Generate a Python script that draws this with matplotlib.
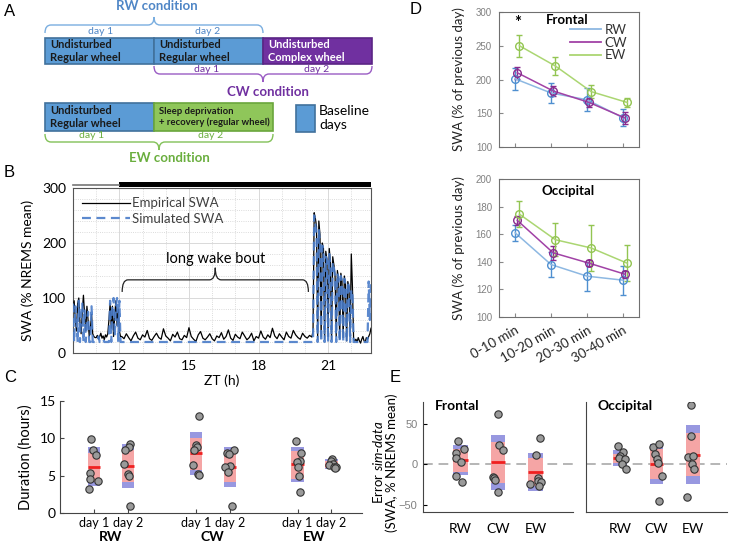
import numpy as np
import matplotlib
matplotlib.use('Agg')
import matplotlib.pyplot as plt
from matplotlib.patches import Rectangle, PathPatch
from matplotlib.path import Path
from matplotlib.lines import Line2D
import matplotlib.transforms as mtransforms

plt.rcParams['font.family'] = ['Lato', 'DejaVu Sans']
plt.rcParams['mathtext.fontset'] = 'custom'
plt.rcParams['mathtext.rm'] = 'Lato'
plt.rcParams['mathtext.it'] = 'Lato:italic'

############################################################
# Panel B : SWA traces (ZT hours)
zt_pre = np.linspace(10.0, 12.05, 42)
zt_wake = np.linspace(12.1, 20.3, 83)
zt_rec = np.linspace(20.35, 22.85, 51)

emp_pre = [80, 95, 60, 40, 90, 100, 55, 35, 75, 105, 70, 40, 85, 60, 30, 45, 70, 35, 30, 28,
           28, 32, 25, 30, 36, 27, 31, 24, 33, 29, 35,
           60, 90, 45, 85, 30, 70, 95, 50, 80, 40, 30]
emp_wake = [30, 26, 35, 28, 22, 31, 38, 27, 24, 33,
            29, 41, 26, 23, 30, 36, 28, 25, 44, 31,
            27, 22, 34, 29, 38, 26, 24, 32, 28, 46,
            30, 25, 21, 33, 39, 27, 24, 29, 35, 26,
            22, 31, 28, 37, 25, 30, 42, 27, 23, 34,
            29, 26, 38, 31, 24, 28, 36, 22, 30, 27,
            40, 29, 25, 33, 28, 45, 31, 26, 35, 29,
            24, 38, 30, 27, 41, 33, 28, 25, 36, 30,
            27, 32, 29]
emp_rec = [40, 255, 245, 230, 25, 240, 215, 30, 200, 190, 25, 185, 170, 30, 190, 165, 25, 175,
           160, 140, 30, 150, 135, 25, 145, 130, 28, 140, 125, 22, 130, 120, 30, 180, 120, 25,
           22, 25, 20, 28, 22, 18, 25, 30, 22, 20, 28, 25, 30, 35, 45]

sim_pre = [90, 20, 85, 60, 20, 95, 20, 70, 90, 20, 80, 20, 60, 75, 20, 20, 85, 20, 20, 20,
           20, 20, 30, 20, 20, 20, 25, 20, 20, 20, 20,
           20, 95, 20, 90, 100, 30, 85, 100, 20, 95, 20]
zt_sim_wake = [12.1, 20.3]
sim_wake = [20, 20]
sim_rec = [20, 250, 235, 215, 20, 225, 200, 20, 195, 185, 20, 175, 170, 20, 180, 160, 20, 165,
           155, 140, 20, 145, 135, 20, 140, 130, 20, 135, 125, 20, 130, 120, 20, 115, 110, 20,
           20, 20, 20, 20, 20, 20, 20, 20, 20, 20, 20, 20, 130, 60, 125]

# Panel C : wake bout durations (hours)
c_pos = [1, 2, 4, 5, 7, 8]
c_ticklabels = ['day 1', 'day 2'] * 3
c_groups = ['RW', 'CW', 'EW']
c_points = [[9.9, 8.4, 7.8, 5.3, 4.5, 4.3, 3.2],
            [9.2, 8.9, 8.4, 6.5, 5.2, 5.0, 1.0],
            [13.0, 9.1, 8.8, 8.4, 6.4, 5.2, 5.1],
            [8.4, 8.0, 7.9, 6.3, 6.1, 5.5, 0.9],
            [9.7, 8.0, 7.0, 6.8, 6.2, 5.0, 2.8],
            [7.2, 6.9, 6.6, 6.4, 6.2, 6.1, 6.0]]
c_jitter = [[-0.08, -0.03, 0.05, -0.13, -0.13, 0.12, -0.15],
            [0.07, 0.03, -0.07, -0.1, 0.0, 0.02, 0.05],
            [0.1, 0.0, 0.04, -0.06, -0.07, 0.08, 0.1],
            [0.12, -0.08, -0.02, 0.0, -0.14, -0.06, 0.06],
            [-0.05, 0.1, 0.07, -0.03, 0.02, 0.04, 0.07],
            [0.02, -0.02, 0.05, -0.06, 0.08, 0.12, 0.1]]
c_mean = [6.2, 6.3, 8.0, 6.1, 6.5, 6.45]
c_ci = [(4.2, 8.0), (4.1, 8.5), (5.8, 10.0), (4.2, 8.4), (4.6, 8.3), (6.05, 7.0)]
c_sd = [(3.6, 8.8), (3.3, 9.2), (5.1, 10.9), (3.5, 8.8), (4.1, 8.8), (5.9, 7.2)]

# Panel D : SWA in first 40 min of recovery (% of previous day)
d_bins = ['0-10 min', '10-20 min', '20-30 min', '30-40 min']
d_conditions = ['RW', 'CW', 'EW']
front_mean = {'RW': [201, 180, 170, 143.5], 'CW': [210, 183, 166, 143], 'EW': [250, 220, 182, 166]}
front_err = {'RW': [16, 15, 17, 13], 'CW': [9, 7, 6, 9], 'EW': [16, 14, 10, 7]}
occ_mean = {'RW': [161, 138, 129.6, 126.7], 'CW': [170, 146.5, 139, 131], 'EW': [174.5, 156, 150, 139]}
occ_err = {'RW': [6, 9, 10.5, 10.5], 'CW': [3, 5, 2, 2.5], 'EW': [9.5, 12, 17, 13]}

# Panel E : simulation error
e_pos = [1, 2, 3]
ef_points = [[29.3, 19.0, 14.0, 7.4, 2.5, -14.0, -22.3],
             [62.4, 24.0, 17.8, -15.7, -17.4, -19.4, -34.7],
             [33.0, 11.6, -17.4, -20.2, -22.3, -24.4, -27.3]]
ef_jitter = [[-0.06, 0.1, -0.13, -0.13, 0.01, -0.13, 0.05],
             [0.0, 0.03, 0.12, -0.13, -0.11, -0.09, 0.0],
             [0.11, 0.02, 0.06, 0.06, 0.15, -0.15, 0.09]]
ef_mean = [5.4, 2.5, -9.1]
ef_ci = [(-9, 19), (-23, 27.3), (-26.4, 7.4)]
ef_sd = [(-13.2, 24), (-31.8, 36.4), (-32.6, 14)]
eo_points = [[23, 15, 10, 8, 7, 0, -5.5],
             [21.3, 25.4, 13, 6, 1.2, -14.8, -45],
             [73.8, 35.2, 9, 9.8, 0, -5.7, -40]]
eo_jitter = [[-0.07, 0.08, -0.01, -0.03, 0.13, 0.05, 0.17],
             [-0.1, 0.06, -0.05, 0.01, 0.03, 0.15, 0.07],
             [-0.04, -0.04, -0.13, 0.02, -0.03, 0.05, -0.15]]
eo_mean = [8.2, 0.8, 11.5]
eo_ci = [(1.6, 13.1), (-17.6, 18.4), (-14.8, 38.5)]
eo_sd = [(-2.5, 17.2), (-23.8, 25.4), (-23.8, 48)]

############################################################

W, H = 729, 543
fig = plt.figure(figsize=(W / 100, H / 100), dpi=100)


def add_ax(l, t, r, b):
    return fig.add_axes([l / W, 1 - b / H, (r - l) / W, (b - t) / H])


def brace(ax, x0, x1, y, d, r, color, lw=1.0):
    xm = (x0 + x1) / 2
    verts = [(x0, y + d), (x0, y), (x0 + r, y), (xm - r, y), (xm, y), (xm, y - d),
             (xm, y), (xm + r, y), (x1 - r, y), (x1, y), (x1, y + d)]
    codes = [Path.MOVETO, Path.CURVE3, Path.CURVE3, Path.LINETO, Path.CURVE3, Path.CURVE3,
             Path.CURVE3, Path.CURVE3, Path.LINETO, Path.CURVE3, Path.CURVE3]
    ax.add_patch(PathPatch(Path(verts, codes), facecolor='none', edgecolor=color, lw=lw, clip_on=False))


SD_COL = '#9898e0'
CI_COL = '#f5a5a5'
MU_COL = '#f02020'


def not_box(ax, x, pts, offs, mean, ci, sd, hw):
    ax.add_patch(Rectangle((x - hw, sd[0]), 2 * hw, sd[1] - sd[0], facecolor=SD_COL, edgecolor='none', zorder=2))
    ax.add_patch(Rectangle((x - hw, ci[0]), 2 * hw, ci[1] - ci[0], facecolor=CI_COL, edgecolor='none', zorder=3))
    ax.plot([x - hw, x + hw], [mean, mean], color=MU_COL, lw=2, zorder=4, solid_capstyle='butt')
    ax.scatter(x + np.array(offs), pts, s=28, facecolor='#9a9a9a', edgecolor='#333333', lw=0.8, zorder=5)


# panel letters
for letter, (px, py) in zip('ABCDE', [(4, 12), (4, 172), (4, 378), (410, 9), (390, 378)]):
    fig.text(px / W, 1 - py / H, letter, fontsize=12, family='Liberation Sans', va='center', ha='left')

############################################################
# A : schematic of the protocol
axA = add_ax(0, 0, 380, 165)
axA.set_xlim(0, 380)
axA.set_ylim(165, 0)
axA.axis('off')

BLUE_BOX, BLUE_EDGE = '#5b9bd5', '#41719c'
PURPLE, PURPLE_EDGE = '#7030a0', '#5b2585'
GREEN_BOX, GREEN_EDGE = '#8fc65a', '#6aa63c'
RW_COL, CW_COL, EW_COL = '#4f86c6', '#7030a0', '#6aae3e'


def day_box(x0, x1, y0, y1, face, edge, text, tcolor, size=8.0):
    axA.add_patch(Rectangle((x0, y0), x1 - x0, y1 - y0, facecolor=face, edgecolor=edge, lw=1.2))
    axA.text(x0 + 5, (y0 + y1) / 2, text, ha='left', va='center', fontsize=size,
             fontweight='bold', color=tcolor, linespacing=1.25)


day_box(45, 154, 38, 64, BLUE_BOX, BLUE_EDGE, 'Undisturbed\nRegular wheel', '#1a1a1a')
day_box(154, 263, 38, 64, BLUE_BOX, BLUE_EDGE, 'Undisturbed\nRegular wheel', '#1a1a1a')
day_box(263, 372, 38, 64, PURPLE, PURPLE_EDGE, 'Undisturbed\nComplex wheel', 'white')
day_box(45, 154, 103, 131, BLUE_BOX, BLUE_EDGE, 'Undisturbed\nRegular wheel', '#1a1a1a')
day_box(154, 273, 103, 131, GREEN_BOX, GREEN_EDGE, 'Sleep deprivation\n+ recovery (regular wheel)', '#1a1a1a', 6.8)
axA.add_patch(Rectangle((296, 105), 19, 27, facecolor=BLUE_BOX, edgecolor=BLUE_EDGE, lw=1.2))
axA.text(319, 118, 'Baseline\ndays', ha='left', va='center', fontsize=10, linespacing=1.2)

brace(axA, 45, 263, 25, 8, 6, '#7aaee0')
axA.text(157, 6, 'RW condition', ha='center', va='center', fontsize=9.5, fontweight='bold', color=RW_COL)
axA.text(101, 31, 'day 1', ha='center', va='center', fontsize=7.5, color=RW_COL)
axA.text(208, 31, 'day 2', ha='center', va='center', fontsize=7.5, color=RW_COL)

brace(axA, 154, 372, 74, -8, 6, '#9a5cc4')
axA.text(207, 69, 'day 1', ha='center', va='center', fontsize=7.5, color=CW_COL)
axA.text(317, 69, 'day 2', ha='center', va='center', fontsize=7.5, color=CW_COL)
axA.text(268, 92, 'CW condition', ha='center', va='center', fontsize=9.5, fontweight='bold', color=CW_COL)

brace(axA, 45, 273, 142, -8, 6, '#82c158')
axA.text(92, 136, 'day 1', ha='center', va='center', fontsize=7.5, color=EW_COL)
axA.text(211, 136, 'day 2', ha='center', va='center', fontsize=7.5, color=EW_COL)
axA.text(169, 158, 'EW condition', ha='center', va='center', fontsize=9.5, fontweight='bold', color=EW_COL)

############################################################
# B : empirical vs simulated SWA
axB = add_ax(73, 188, 371, 353)
t_emp = np.concatenate([zt_pre, zt_wake, zt_rec])
t_sim = np.concatenate([zt_pre, zt_sim_wake, zt_rec])
axB.plot(t_emp, emp_pre + emp_wake + emp_rec, color='black', lw=0.9, label='Empirical SWA', zorder=3)
axB.plot(t_sim, sim_pre + sim_wake + sim_rec, color='#4a7cc9', lw=1.6, ls=(0, (4, 2.5)),
         label='Simulated SWA', zorder=4, alpha=0.9)
axB.set_xlim(10, 22.85)
axB.set_ylim(0, 300)
axB.set_xticks([12, 15, 18, 21])
axB.set_yticks([0, 100, 200, 300])
axB.set_xticks(np.arange(10, 23), minor=True)
axB.set_yticks(np.arange(0, 301, 20), minor=True)
axB.grid(which='major', color='#d9d9d9', lw=0.7)
axB.grid(which='minor', color='#cfcfcf', lw=0.6, ls=':')
axB.set_axisbelow(True)
axB.tick_params(which='both', direction='in', length=0, labelsize=10, pad=5)
for s in axB.spines.values():
    s.set_color('#555555')
    s.set_linewidth(0.8)
axB.set_xlabel('ZT (h)', fontsize=10, labelpad=2)
axB.set_ylabel('SWA (% NREMS mean)', fontsize=10, labelpad=6)
axB.legend(loc='upper left', frameon=False, fontsize=9.5, handlelength=3.6, handletextpad=0.2,
           labelspacing=0.25, borderaxespad=0.3, labelcolor='#404040')

# light / dark bar
trB = mtransforms.blended_transform_factory(axB.transData, axB.transAxes)
axB.add_patch(Rectangle((12, 1.008), 10.85, 0.028, transform=trB, clip_on=False, facecolor='black', edgecolor='none'))
axB.plot([10, 12], [1.02, 1.02], transform=trB, clip_on=False, color='#777777', lw=1.2)

brace(axB, 12.12, 20.15, 133, -22, 0.25, '#222222', lw=0.9)
axB.text(16.13, 171, 'long wake bout', ha='center', va='center', fontsize=10.5)

############################################################
# C : durations
axC = add_ax(60, 401, 362, 513)
for i in range(6):
    not_box(axC, c_pos[i], c_points[i], c_jitter[i], c_mean[i], c_ci[i], c_sd[i], 0.18)
axC.set_xlim(0, 8.9)
axC.set_ylim(0, 15)
axC.set_yticks([0, 5, 10, 15])
axC.set_xticks(c_pos)
axC.set_xticklabels(c_ticklabels, fontsize=9)
axC.tick_params(direction='in', length=3, labelsize=10, pad=3, color='#444444')
axC.tick_params(axis='x', labelsize=9)
axC.spines['top'].set_visible(False)
axC.spines['right'].set_visible(False)
for s in ['left', 'bottom']:
    axC.spines[s].set_color('#444444')
axC.set_ylabel('Duration (hours)', fontsize=10.5, labelpad=5)
trC = mtransforms.blended_transform_factory(axC.transData, axC.transAxes)
for g, xc in zip(c_groups, [1.5, 4.5, 7.5]):
    axC.text(xc, -0.21, g, transform=trC, ha='center', va='center', fontsize=10, fontweight='bold')

############################################################
# D : SWA first 40 min
D_LINE = {'RW': '#8db8e2', 'CW': '#a142a6', 'EW': '#abd672'}
D_ERR = {'RW': '#4f8fd0', 'CW': '#8a2a8e', 'EW': '#93c552'}
D_OFF = {'RW': 0.0, 'CW': 0.06, 'EW': 0.12}
xb = np.arange(1, 5)

axD1 = add_ax(499, 12, 639, 147)
axD2 = add_ax(499, 179, 639, 317)
for ax, means, errs in [(axD1, front_mean, front_err), (axD2, occ_mean, occ_err)]:
    for cond in d_conditions:
        ax.errorbar(xb + D_OFF[cond], means[cond], yerr=errs[cond], color=D_LINE[cond], ecolor=D_ERR[cond],
                    marker='o', mfc='none', mec=D_ERR[cond], ms=5.5, lw=1.1, elinewidth=1, capsize=2.2)
    ax.set_xlim(0.55, 4.45)
    ax.set_xticks(xb)
    ax.tick_params(direction='in', length=3, labelsize=7, labelcolor='#808080', color='#888888', pad=5)
    for s in ax.spines.values():
        s.set_color('#707070')
    ax.set_ylabel('SWA (% of previous day)', fontsize=9.5, color='#222222', labelpad=8)

axD1.set_ylim(100, 300)
axD1.set_yticks(np.arange(100, 301, 50))
axD1.set_xticklabels([])
for lab in axD1.get_yticklabels():
    lab.set_family('Liberation Sans')
axD1.text(0.49, 0.94, 'Frontal', transform=axD1.transAxes, ha='center', va='center', fontsize=9.5, fontweight='bold')
axD1.text(1.07, 283, '*', ha='center', va='center', fontsize=12, fontweight='bold')
handles = [Line2D([], [], color=D_LINE[c], lw=1.3) for c in d_conditions]
axD1.legend(handles, d_conditions, loc='upper right', frameon=False, fontsize=9.5, handlelength=2.3,
            handletextpad=0.3, labelspacing=0.05, borderaxespad=0.5, labelcolor='#333333')

axD2.set_ylim(100, 200)
axD2.set_yticks(np.arange(100, 201, 20))
for lab in axD2.get_yticklabels():
    lab.set_family('Liberation Sans')
axD2.set_xticklabels(d_bins, rotation=30, ha='right', rotation_mode='anchor', fontsize=9.5, color='#222222')
axD2.text(0.49, 0.915, 'Occipital', transform=axD2.transAxes, ha='center', va='center', fontsize=9.5,
          fontweight='bold')

############################################################
# E : simulation error
axE1 = add_ax(423, 402, 573, 512)
axE2 = add_ax(586, 402, 727, 512)
for ax, pts, jit, mu, ci, sd, title in [(axE1, ef_points, ef_jitter, ef_mean, ef_ci, ef_sd, 'Frontal'),
                                        (axE2, eo_points, eo_jitter, eo_mean, eo_ci, eo_sd, 'Occipital')]:
    ax.axhline(0, color='#b5b5b5', ls=(0, (5, 3)), lw=1.4, zorder=1)
    for i in range(3):
        not_box(ax, e_pos[i], pts[i], jit[i], mu[i], ci[i], sd[i], 0.19)
    ax.set_ylim(-59, 77)
    ax.set_xticks(e_pos)
    ax.set_xticklabels(c_groups)
    ax.spines['top'].set_visible(False)
    ax.spines['right'].set_visible(False)
    for s in ['left', 'bottom']:
        ax.spines[s].set_color('#444444')
    ax.tick_params(axis='x', length=0, labelsize=10, pad=8)
    ax.text(0.08, 0.96, title, transform=ax.transAxes, ha='left', va='center', fontsize=10, fontweight='bold')

axE1.set_xlim(0, 4)
axE2.set_xlim(0.05, 3.95)
axE1.set_yticks([-50, 0, 50])
axE1.tick_params(axis='y', direction='in', length=3, labelsize=8, labelcolor='#808080', pad=4)
for lab in axE1.get_yticklabels():
    lab.set_family('Liberation Sans')
axE2.set_yticks([])
axE1.set_ylabel('Error $\\it{sim}$-$\\it{data}$\n(SWA, % NREMS mean)', fontsize=9.5, linespacing=1.1)
axE1.yaxis.set_label_coords(-0.165, 0.45)

fig.savefig('out.png', dpi=100)
